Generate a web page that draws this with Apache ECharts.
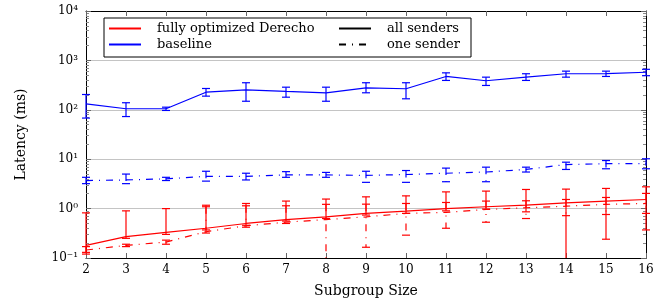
<!DOCTYPE html>
<html>
<head>
<meta charset="utf-8">
<script src="https://cdn.jsdelivr.net/npm/echarts@6/dist/echarts.min.js"></script>
<style>
  html, body { margin: 0; padding: 0; background: #fff; }
  #chart { width: 672px; height: 303px; }
</style>
</head>
<body>
<div id="chart"></div>
<script>
// subgroup sizes on x
var sizes = [2, 3, 4, 5, 6, 7, 8, 9, 10, 11, 12, 13, 14, 15, 16]

// fully optimized Derecho, all senders
var optAll = [0.18, 0.27, 0.33, 0.40, 0.50, 0.60, 0.68, 0.80, 0.89, 1.00, 1.09, 1.18, 1.31, 1.42, 1.53]
var optAllLo = [0.13, 0.25, 0.30, 0.37, 0.46, 0.56, 0.63, 0.74, 0.80, 0.90, 0.98, 0.86, 0.05, 0.24, 0.37]
var optAllHi = [0.82, 0.90, 1.00, 1.17, 1.27, 1.42, 1.56, 1.73, 1.81, 2.18, 2.26, 2.44, 2.48, 2.56, 2.76]

// fully optimized Derecho, one sender
var optOne = [0.145, 0.18, 0.21, 0.34, 0.45, 0.53, 0.60, 0.68, 0.80, 0.84, 0.96, 1.04, 1.12, 1.22, 1.27]
var optOneLo = [0.12, 0.17, 0.19, 0.32, 0.42, 0.50, 0.05, 0.165, 0.29, 0.40, 0.53, 0.63, 0.72, 0.76, 0.80]
var optOneHi = [0.17, 0.19, 0.23, 1.09, 1.14, 1.14, 1.22, 1.23, 1.27, 1.33, 1.42, 1.44, 1.53, 1.68, 2.03]

// baseline, all senders
var baseAll = [132, 105, 105, 227, 254, 235, 221, 279, 267, 473, 387, 458, 537, 540, 575]
var baseAllLo = [68, 73, 97, 189, 149, 180, 149, 221, 167, 393, 311, 393, 458, 473, 490]
var baseAllHi = [204, 139, 113, 270, 353, 287, 287, 353, 353, 560, 458, 537, 606, 606, 660]

// baseline, one sender
var baseOne = [3.7, 3.8, 4.0, 4.5, 4.5, 4.8, 4.8, 4.7, 4.9, 5.2, 5.5, 6.2, 7.8, 8.1, 8.1]
var baseOneLo = [3.2, 3.2, 3.7, 3.6, 3.8, 4.3, 4.3, 3.4, 3.4, 3.5, 3.5, 5.5, 6.2, 6.4, 6.4]
var baseOneHi = [4.3, 5.0, 4.3, 5.7, 5.2, 5.6, 5.4, 5.7, 5.9, 6.6, 6.9, 6.9, 8.7, 9.4, 10.2]

var yTickLabels = ['10⁻¹', '10⁰', '10¹', '10²', '10³', '10⁴']

var RED = '#ff0000'
var BLUE = '#0000ff'
var DASHDOT = [7, 6, 1, 6]
var FONT = 'DejaVu Serif'

function pairs (vals) {
  return sizes.map(function (s, i) { return [s, vals[i]] })
}

function lineSeries (name, vals, color, dash) {
  return {
    name: name,
    type: 'line',
    data: pairs(vals),
    symbol: 'none',
    z: 3,
    lineStyle: { color: color, width: 1.2, type: dash || 'solid' }
  }
}

// error bars drawn with a custom series
function errSeries (lo, hi, color, dash) {
  return {
    type: 'custom',
    z: 4,
    data: sizes.map(function (s, i) { return [s, lo[i], hi[i]] }),
    renderItem: function (params, api) {
      var x = api.value(0)
      var clipped = api.value(1) < 0.1
      var top = api.coord([x, api.value(2)])
      var bot = api.coord([x, Math.max(api.value(1), 0.1)])
      var w = 4
      var st = { stroke: color, lineWidth: 1.2 }
      var kids = [
        { type: 'line', shape: { x1: top[0], y1: top[1], x2: bot[0], y2: bot[1] },
          style: { stroke: color, lineWidth: 1.2, lineDash: dash || null } },
        { type: 'line', shape: { x1: top[0] - w, y1: top[1], x2: top[0] + w, y2: top[1] }, style: st }
      ]
      if (!clipped) {
        kids.push({ type: 'line', shape: { x1: bot[0] - w, y1: bot[1], x2: bot[0] + w, y2: bot[1] }, style: st })
      }
      return { type: 'group', children: kids }
    }
  }
}

// legend only entries
function legendSeries (name, color, dash) {
  return {
    name: name, type: 'line', data: [], symbol: 'none',
    itemStyle: { color: color },
    lineStyle: { color: color, width: 1.2, type: dash || 'solid' }
  }
}

var chart = echarts.init(document.getElementById('chart'))

var tickText = { color: '#000', fontFamily: FONT, fontSize: 12 }

var legendBase = {
  orient: 'vertical', top: 22, padding: 0,
  itemWidth: 32, itemHeight: 14, itemGap: 3,
  itemStyle: { opacity: 0 },
  textStyle: { fontFamily: FONT, fontSize: 13, color: '#000', padding: [0, 0, 0, 11] },
  z: 11
}

var option = {
  animation: false,
  grid: { left: 86, right: 26, top: 11, bottom: 45 },
  graphic: [{
    type: 'rect',
    shape: { x: 104, y: 18, width: 367, height: 39 },
    style: { fill: '#fff', stroke: '#000', lineWidth: 1 },
    z: 10
  }],
  legend: [
    Object.assign({ data: ['fully optimized Derecho', 'baseline'], left: 108 }, legendBase),
    Object.assign({ data: ['all senders', 'one sender'], left: 338 }, legendBase)
  ],
  xAxis: [
    {
      type: 'value', min: 2, max: 16, interval: 1,
      name: 'Subgroup Size', nameLocation: 'middle', nameGap: 26,
      nameTextStyle: { fontFamily: FONT, fontSize: 14, color: '#000' },
      axisLine: { lineStyle: { color: '#000', width: 1 } },
      axisTick: { inside: true, length: 5, lineStyle: { color: '#666' } },
      axisLabel: Object.assign({ margin: 6 }, tickText),
      splitLine: { show: false }
    },
    {
      type: 'value', min: 2, max: 16, interval: 1, position: 'top',
      axisLine: { lineStyle: { color: '#000', width: 1 } },
      axisTick: { inside: true, length: 5, lineStyle: { color: '#666' } },
      axisLabel: { show: false },
      splitLine: { show: false }
    }
  ],
  yAxis: [
    {
      type: 'log', logBase: 10, min: 0.1, max: 10000,
      name: 'Latency (ms)', nameLocation: 'middle', nameGap: 58,
      nameTextStyle: { fontFamily: FONT, fontSize: 14, color: '#000' },
      axisLine: { show: true, lineStyle: { color: '#000', width: 1 } },
      axisTick: { inside: true, length: 5, lineStyle: { color: '#666' } },
      minorTick: { show: true, splitNumber: 9, length: 3, lineStyle: { color: '#888' } },
      axisLabel: Object.assign({
        margin: 8,
        formatter: function (v) { return yTickLabels[Math.round(Math.log10(v)) + 1] }
      }, tickText),
      splitLine: { show: true, lineStyle: { color: '#c4c4c4', width: 1.2 } }
    },
    {
      type: 'log', logBase: 10, min: 0.1, max: 10000, position: 'right',
      axisLine: { show: true, lineStyle: { color: '#000', width: 1 } },
      axisTick: { inside: true, length: 5, lineStyle: { color: '#666' } },
      minorTick: { show: true, splitNumber: 9, length: 3, lineStyle: { color: '#888' } },
      axisLabel: { show: false },
      splitLine: { show: false }
    }
  ],
  series: [
    lineSeries('opt-all', optAll, RED),
    lineSeries('opt-one', optOne, RED, DASHDOT),
    lineSeries('base-all', baseAll, BLUE),
    lineSeries('base-one', baseOne, BLUE, DASHDOT),
    errSeries(optAllLo, optAllHi, RED),
    errSeries(optOneLo, optOneHi, RED, DASHDOT),
    errSeries(baseAllLo, baseAllHi, BLUE),
    errSeries(baseOneLo, baseOneHi, BLUE, DASHDOT),
    legendSeries('fully optimized Derecho', RED),
    legendSeries('baseline', BLUE),
    legendSeries('all senders', '#000'),
    legendSeries('one sender', '#000', DASHDOT)
  ]
}

chart.setOption(option)
</script>
</body>
</html>
